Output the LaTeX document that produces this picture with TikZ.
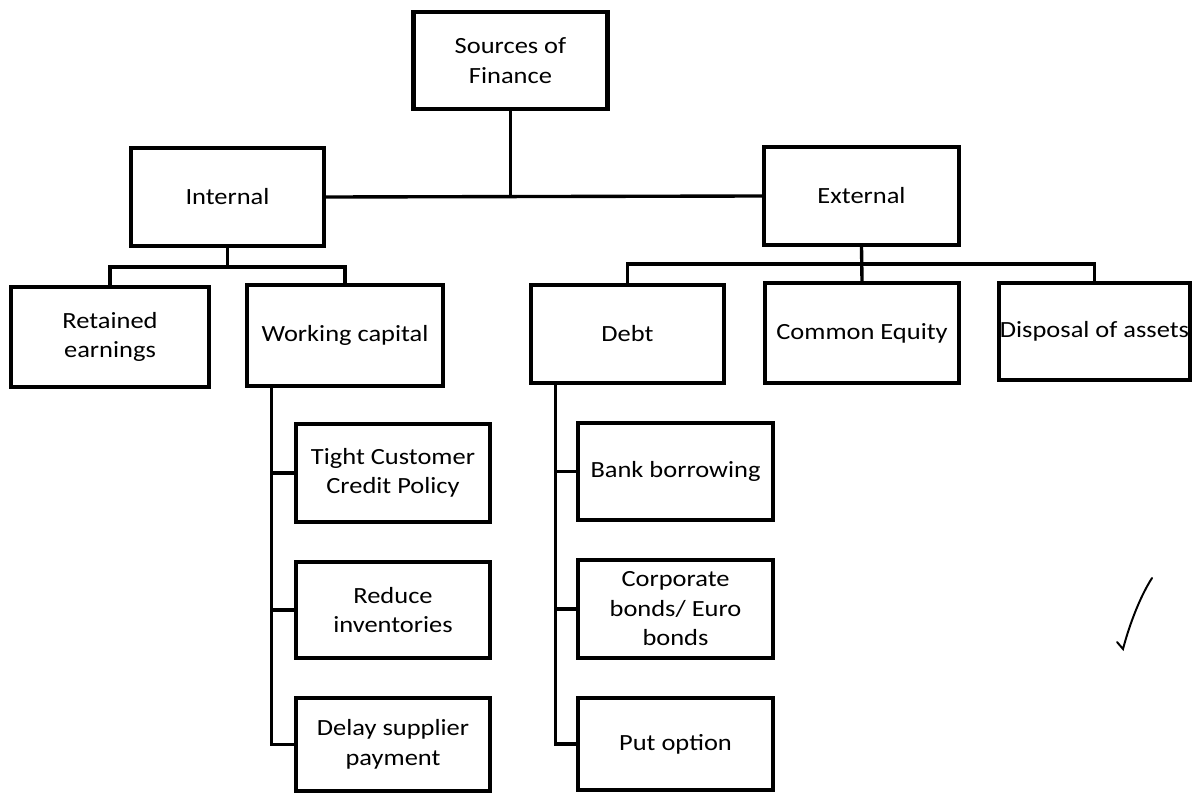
\documentclass[tikz,border=0pt]{standalone}
\usepackage{fontspec}
\setmainfont[FakeStretch=1.14]{Carlito}

\begin{document}
\begin{tikzpicture}[x=0.025cm,y=-0.025cm,
        box/.style={draw, line width=2.9pt, align=center, inner sep=0pt,
                    font=\fontsize{16.5}{21}\selectfont,
                    minimum width=4.85cm, minimum height=2.45cm},
        link/.style={line width=2.4pt}]
        \useasboundingbox (0,0) rectangle (1196,794);

        % top level
        \node [box, minimum height=2.42cm] (src) at (510.5,60.5) {Sources of\\Finance};
        \node [box, minimum width=4.82cm] (int) at (227.5,197) {Internal};
        \node [box, minimum width=4.87cm] (ext) at (861.5,196) {External};

        % second level
        \node [box, minimum width=4.95cm, minimum height=2.5cm] (ret) at (110,337) {Retained\\earnings};
        \node [box, minimum width=4.9cm, minimum height=2.52cm] (wc) at (345,335.5) {Working capital};
        \node [box, minimum width=4.82cm] (debt) at (627.5,334) {Debt};
        \node [box, minimum width=4.85cm, minimum height=2.5cm] (eq) at (862,333) {Common Equity};
        \node [box, minimum width=4.77cm, minimum height=2.42cm] (disp) at (1094.5,331.5) {Disposal of assets};

        % working capital items
        \node [box] (tight) at (393,473) {Tight Customer\\Credit Policy};
        \node [box, minimum height=2.4cm] (reduce) at (393,610) {Reduce\\inventories};
        \node [box, minimum height=2.32cm] (delay) at (393,744.5) {Delay supplier\\payment};

        % debt items
        \node [box, minimum width=4.87cm, minimum height=2.42cm] (bank) at (675.5,471.5) {Bank borrowing};
        \node [box, minimum width=4.87cm] (corp) at (675.5,609) {Corporate\\bonds/ Euro\\bonds};
        \node [box, minimum width=4.87cm, minimum height=2.32cm] (put) at (675.5,744) {Put option};

        \coordinate (intbus) at (227.5,267);
        \coordinate (extbus) at (861.5,264);

        \draw [link] (int.east) -- (ext.west);
        \draw [link] (src.south) -- (src.south |- int.east);

        \draw [link] (int.south) -- (intbus);
        \draw [link] (ret.north) |- (intbus) -| (wc.north);

        \draw [link] (ext.south) -- (eq.north);
        \draw [link] (debt.north) |- (extbus) -| (disp.north);

        \draw [link] ([xshift=19]wc.south west) |- (tight.west);
        \draw [link] ([xshift=19]wc.south west) |- (reduce.west);
        \draw [link] ([xshift=19]wc.south west) |- (delay.west);

        \draw [link] ([xshift=19]debt.south west) |- (bank.west);
        \draw [link] ([xshift=19]debt.south west) |- (corp.west);
        \draw [link] ([xshift=19]debt.south west) |- (put.west);

        % tick
        \draw [line width=1.4pt, line cap=round] (1152,578) .. controls (1138,600) and (1128,630) .. (1123,649) -- (1117,642);
    \end{tikzpicture}
\end{document}
